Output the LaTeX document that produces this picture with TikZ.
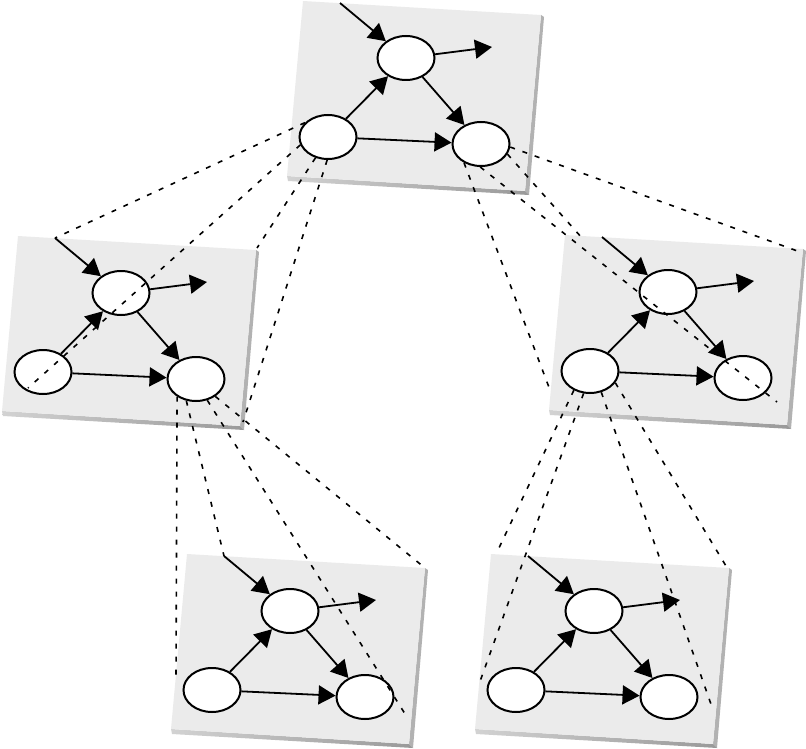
\documentclass[tikz,border=0pt]{standalone}
\usetikzlibrary{arrows.meta,shapes.geometric}
\definecolor{face}{HTML}{EBEBEB}
\tikzset{
  gnode/.style={ellipse, draw=black, line width=2pt, fill=white,
    minimum width=57pt, minimum height=44pt, inner sep=0pt},
  garrow/.style={line width=1.8pt, -{Triangle[length=17pt,width=19pt]}},
  proj/.style={line width=1.6pt, dash pattern=on 5pt off 8pt, black},
}
\newcommand\mypanel[3]{%
  \begin{scope}[shift={(#2,#3)}]
    \fill[gray!60] (238,13) -- (241,15) -- (226,193) -- (222,189) -- cycle;
    \shade[left color=gray!35, right color=gray!80]
      (-16,174) -- (222,189) -- (226,193) -- (-15,179) -- cycle;
    \fill[face] (0,-1) -- (238,13) -- (222,189) -- (-16,174) -- cycle;
    \node[gnode] (#1t) at (103,56) {};
    \node[gnode] (#1l) at (25,135) {};
    \node[gnode] (#1r) at (178,142) {};
    \coordinate (#1in) at (37,1);
    \coordinate (#1out) at (189,45);
    \draw[garrow] (#1in) -- (#1t);
    \draw[garrow] (#1t) -- (#1out);
    \draw[garrow] (#1l) -- (#1t);
    \draw[garrow] (#1t) -- (#1r);
    \draw[garrow] (#1l) -- (#1r);
  \end{scope}}
\begin{document}
\begin{tikzpicture}[x=1pt,y=-1pt]
  \useasboundingbox (0,0) rectangle (806,749);
  \mypanel{A}{303}{2}
  \mypanel{B}{18}{237}
  \mypanel{C}{565}{236}
  \mypanel{D}{187}{555}
  \mypanel{E}{491}{555}
  % projection end points
  \coordinate (b1) at (55,238);
  \coordinate (b2) at (28,388);
  \coordinate (b3) at (257,248);
  \coordinate (b4) at (243,422);
  \coordinate (c1) at (803,253);
  \coordinate (c2) at (582,238);
  \coordinate (c3) at (777,402);
  \coordinate (c4) at (550,390);
  \coordinate (d1) at (176,675);
  \coordinate (d2) at (224,556);
  \coordinate (d3) at (407,717);
  \coordinate (d4) at (425,568);
  \coordinate (e1) at (498,550);
  \coordinate (e2) at (478,687);
  \coordinate (e3) at (712,707);
  \coordinate (e4) at (726,566);
  % projection lines
  \draw[proj] (Al.148) -- (b1);
  \draw[proj] (Al.196) -- (b2);
  \draw[proj] (Al.239) -- (b3);
  \draw[proj] (Al.268) -- (b4);
  \draw[proj] (Ar.354) -- (c1);
  \draw[proj] (Ar.339) -- (c2);
  \draw[proj] (Ar.268) -- (c3);
  \draw[proj] (Ar.228) -- (c4);
  \draw[proj] (Br.223) -- (d1);
  \draw[proj] (Br.246) -- (d2);
  \draw[proj] (Br.298) -- (d3);
  \draw[proj] (Br.318) -- (d4);
  \draw[proj] (Cl.230) -- (e1);
  \draw[proj] (Cl.254) -- (e2);
  \draw[proj] (Cl.298) -- (e3);
  \draw[proj] (Cl.335) -- (e4);
\end{tikzpicture}
\end{document}
